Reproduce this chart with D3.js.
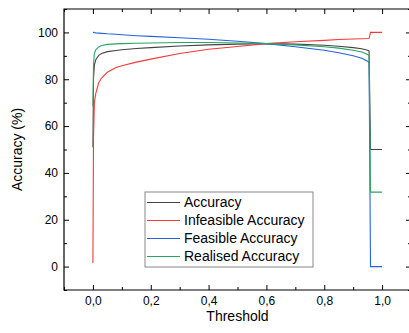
<!DOCTYPE html>
<html>
<head>
<meta charset="utf-8">
<script src="https://cdn.jsdelivr.net/npm/d3@7"></script>
<style>
  body { margin: 0; background: #fff; overflow: hidden; }
  svg { display: block; font-family: "Liberation Sans", Arial, sans-serif; }
</style>
</head>
<body>
<svg id="chart"></svg>
<script>
const thresholds = [0, 0.002, 0.005, 0.01, 0.02, 0.03, 0.05, 0.08, 0.1, 0.15, 0.2, 0.3, 0.4, 0.5, 0.6, 0.7, 0.8, 0.85, 0.9, 0.93, 0.95, 0.955, 0.96, 1.0];
const accuracy   = [51, 80, 86, 88.3, 90.2, 91, 91.8, 92.3, 92.6, 93.1, 93.5, 94.2, 94.7, 95.0, 95.2, 95.0, 94.5, 94.1, 93.5, 93.0, 92.4, 92.0, 50, 50];
const infeasible = [1.5, 55, 70, 74, 78.5, 80.5, 83, 85, 85.8, 87.3, 88.6, 91, 92.8, 94, 95.2, 96, 96.6, 97, 97.2, 97.3, 97.4, 97.5, 100, 100];
const feasible   = [100, 100, 99.9, 99.8, 99.7, 99.6, 99.4, 99.2, 99.0, 98.6, 98.3, 97.7, 97.1, 96.2, 95.2, 93.9, 92.4, 91.3, 90, 89, 87.7, 87, 0, 0];
const realised   = [68.5, 86, 91, 92.6, 93.8, 94.4, 94.9, 95.1, 95.2, 95.4, 95.5, 95.7, 95.7, 95.5, 95.2, 94.7, 93.9, 93.3, 92.4, 91.6, 90.6, 90, 31.8, 31.8];

const seriesNames = ["Accuracy", "Infeasible Accuracy", "Feasible Accuracy", "Realised Accuracy"];
const seriesValues = [accuracy, infeasible, feasible, realised];
const colors = ["#444444", "#f23a3a", "#2563dc", "#2aa464"];

const xTicks = [0, 0.2, 0.4, 0.6, 0.8, 1.0];
const yTicks = [0, 20, 40, 60, 80, 100];

const [width, height] = [409, 333];
const margin = {top: 9, right: -2, bottom: 43, left: 64};

const svg = d3.select("#chart").attr("width", width).attr("height", height);

const x = d3.scaleLinear().domain([-0.1, 1.1]).range([margin.left, width - margin.right]);
const y = d3.scaleLinear().domain([-10, 110]).range([height - margin.bottom, margin.top]);

const fmt = d => d3.format(".1f")(d).replace(".", ",");

// major + minor ticks on all four sides, pointing inward
function ticks(axisFn, pos, transform, values, size, labels) {
  const g = svg.append("g")
    .attr("transform", transform)
    .call(axisFn(pos).tickValues(values).tickSizeInner(-size).tickSizeOuter(0)
      .tickPadding(labels ? 6 : 0).tickFormat(labels || (() => "")));
  g.select(".domain").remove();
  g.selectAll("line").attr("stroke", "#000");
  g.selectAll("text").attr("fill", "#000").attr("font-size", 12)
    .attr("font-family", "Liberation Sans, Arial, sans-serif");
  return g;
}
const xMinor = [-0.1, 0.1, 0.3, 0.5, 0.7, 0.9, 1.1];
const yMinor = [-10, 10, 30, 50, 70, 90, 110];
const bottomY = height - margin.bottom, rightX = width - margin.right;

ticks(d3.axisBottom, x, `translate(0,${bottomY})`, xTicks, 5, fmt);
ticks(d3.axisBottom, x, `translate(0,${bottomY})`, xMinor, 3);
ticks(d3.axisTop, x, `translate(0,${margin.top})`, xTicks, 5);
ticks(d3.axisTop, x, `translate(0,${margin.top})`, xMinor, 3);
ticks(d3.axisLeft, y, `translate(${margin.left},0)`, yTicks, 5, d3.format("d"));
ticks(d3.axisLeft, y, `translate(${margin.left},0)`, yMinor, 3);
ticks(d3.axisRight, y, `translate(${rightX},0)`, yTicks, 5);
ticks(d3.axisRight, y, `translate(${rightX},0)`, yMinor, 3);

// frame (right edge lies just past the picture)
svg.append("path")
  .attr("d", `M${rightX},${margin.top}H${margin.left}V${bottomY}H${rightX}`)
  .attr("fill", "none").attr("stroke", "#000").attr("stroke-width", 1.2);

svg.append("clipPath").attr("id", "clip").append("rect")
  .attr("x", margin.left).attr("y", margin.top)
  .attr("width", rightX - margin.left).attr("height", bottomY - margin.top);

const line = d3.line().x(d => x(d[0])).y(d => y(d[1]));

svg.append("g").attr("clip-path", "url(#clip)")
  .selectAll("path")
  .data(seriesValues)
  .join("path")
  .attr("d", vals => line(thresholds.map((t, i) => [t, vals[i]])))
  .attr("fill", "none")
  .attr("stroke", (d, i) => colors[i])
  .attr("stroke-width", 1.1);

// axis titles
svg.append("text")
  .attr("x", x(0.5)).attr("y", 321)
  .attr("text-anchor", "middle").attr("font-size", 14)
  .text("Threshold");
svg.append("text")
  .attr("transform", `translate(22,${y(50)}) rotate(-90)`)
  .attr("text-anchor", "middle").attr("font-size", 14)
  .text("Accuracy (%)");

// legend
const legend = svg.append("g").attr("transform", "translate(145,192)");
legend.append("rect")
  .attr("width", 168).attr("height", 75)
  .attr("fill", "#fff").attr("stroke", "#888").attr("stroke-width", 1);
const rows = legend.selectAll("g.row")
  .data(seriesNames)
  .join("g")
  .attr("class", "row")
  .attr("transform", (d, i) => `translate(0,${10.5 + i * 18})`);
rows.append("line")
  .attr("x1", 2).attr("x2", 35)
  .attr("stroke", (d, i) => colors[i]).attr("stroke-width", 1.1);
rows.append("text")
  .attr("x", 39).attr("dy", "0.35em")
  .attr("font-size", 14)
  .text(d => d);
</script>
</body>
</html>
